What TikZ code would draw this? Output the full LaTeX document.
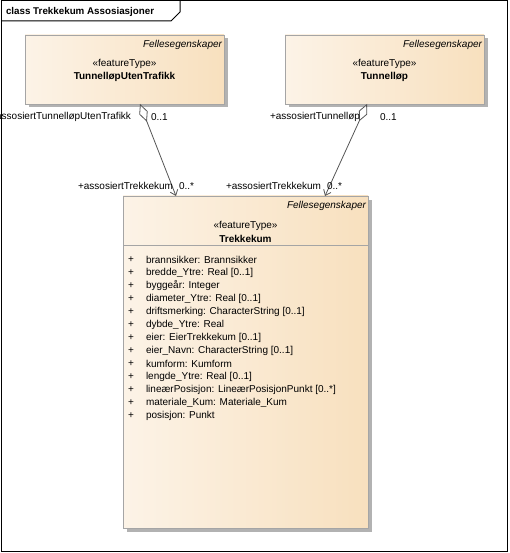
\documentclass[tikz,border=0pt]{standalone}
\usepackage{fontspec}
\setmainfont{Liberation Sans}
\usetikzlibrary{arrows.meta,shadows}
\definecolor{fillL}{RGB}{252,243,231}
\definecolor{fillR}{RGB}{248,224,190}
\definecolor{bord}{RGB}{165,165,165}
\definecolor{shad}{RGB}{178,178,178}
\definecolor{conn}{RGB}{85,85,85}
\begin{document}
\begin{tikzpicture}[x=1pt,y=-1pt,
  txt/.style={font=\fontsize{10pt}{11pt}\selectfont, inner sep=0pt, outer sep=0pt},
  classbox/.style={draw=bord, line width=0.9pt, left color=fillL, right color=fillR,
    inner sep=0pt, outer sep=0pt, anchor=north west,
    drop shadow={shadow xshift=3.5pt, shadow yshift=-3.5pt, fill=shad, opacity=1}},
  pkg/.style={txt, font=\fontsize{10pt}{11pt}\selectfont\itshape, anchor=east},
  stereo/.style={txt},
  cname/.style={txt, font=\fontsize{10pt}{11pt}\selectfont\bfseries},
  attr/.style={txt, anchor=west},
  role/.style={txt},
  assoc/.style={draw=conn, line width=0.8pt,
    {Diamond[fill=white, length=19pt, width=9pt, line width=0.8pt]}-{Straight Barb[length=5pt, width=8pt, line width=0.8pt]}}
]
\useasboundingbox (0,0) rectangle (510,553);
% frame
\draw[line width=1pt] (1,1) rectangle (507,551);
\draw[line width=1pt] (1,21) -- (171,21) -- (180,12) -- (180,1);
\node[txt, font=\fontsize{9.8pt}{11pt}\selectfont\bfseries, anchor=west] (title) at (6,11.5) {class Trekkekum Assosiasjoner};

% boxes
\node[classbox, minimum width=199pt, minimum height=69pt] (tut) at (25,35) {};
\node[classbox, minimum width=199pt, minimum height=69pt] (tl) at (285,35) {};
\node[classbox, minimum width=245pt, minimum height=332pt] (tk) at (123,196) {};
\draw[draw=bord, line width=0.9pt] (tk.west |- 0,245) coordinate (sepL) -- (tk.east |- 0,245) coordinate (sepR);

% box texts
\node[pkg] (tut-pkg) at (222,45) {Fellesegenskaper};
\node[stereo] (tut-st) at (124.5,64) {«featureType»};
\node[cname] (tut-nm) at (124.5,77) {TunnelløpUtenTrafikk};

\node[pkg] (tl-pkg) at (482,45) {Fellesegenskaper};
\node[stereo] (tl-st) at (384.5,64) {«featureType»};
\node[cname] (tl-nm) at (384.5,77) {Tunnelløp};

\node[pkg] (tk-pkg) at (366,206) {Fellesegenskaper};
\node[stereo] (tk-st) at (245.5,226) {«featureType»};
\node[cname] (tk-nm) at (245.5,238.5) {Trekkekum};

% attributes
\foreach \t [count=\i from 0] in {
  brannsikker: Brannsikker,
  bredde\_Ytre: Real [0..1],
  byggeår: Integer,
  diameter\_Ytre: Real [0..1],
  driftsmerking: CharacterString [0..1],
  dybde\_Ytre: Real,
  eier: EierTrekkekum [0..1],
  eier\_Navn: CharacterString [0..1],
  kumform: Kumform,
  lengde\_Ytre: Real [0..1],
  lineærPosisjon: LineærPosisjonPunkt [0..*],
  materiale\_Kum: Materiale\_Kum,
  posisjon: Punkt}{
  \node[txt] (p\i) at (131,260+13*\i) {+};
  \node[attr] (a\i) at (146,260+13*\i) {\t};
}

% connectors
\coordinate (s1) at (140,104);
\coordinate (e1) at (176,196);
\coordinate (s2) at (367,104);
\coordinate (e2) at (325,196);
\draw[assoc] (s1) -- (e1);
\draw[assoc] (s2) -- (e2);

% role labels
\node[role, anchor=east] (r1) at (131,117) {+assosiertTunnelløpUtenTrafikk};
\node[role, anchor=west] (m1) at (151,117) {0..1};
\node[role, anchor=east] (r2) at (360,117) {+assosiertTunnelløp};
\node[role, anchor=west] (m2) at (380,117) {0..1};
\node[role, anchor=east] (r3) at (173,186) {+assosiertTrekkekum};
\node[role, anchor=west] (m3) at (179,186) {0..*};
\node[role, anchor=east] (r4) at (321,186) {+assosiertTrekkekum};
\node[role, anchor=west] (m4) at (327,186) {0..*};
\end{tikzpicture}
\end{document}
